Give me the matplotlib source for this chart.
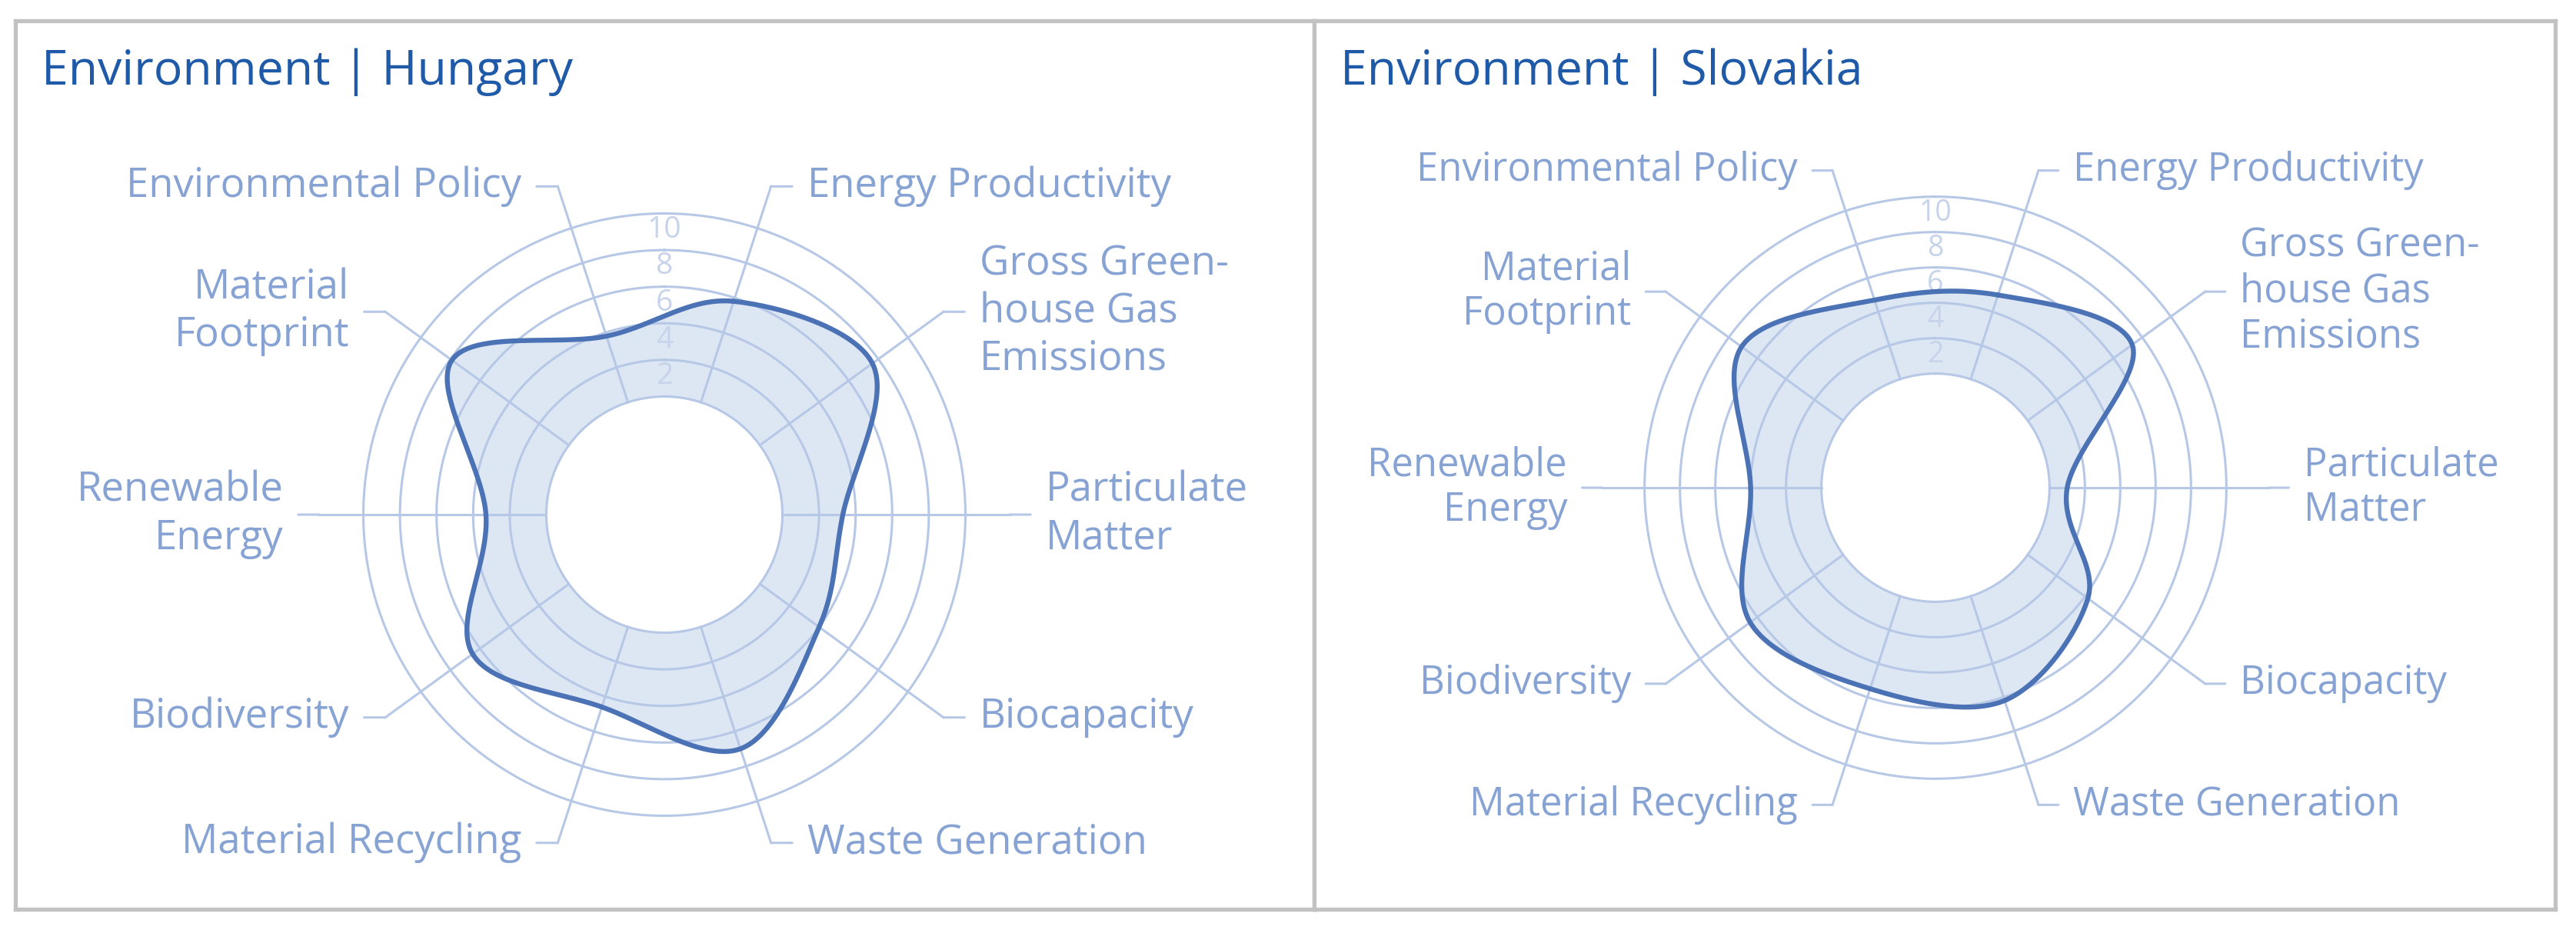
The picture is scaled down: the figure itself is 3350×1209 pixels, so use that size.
import numpy as np
import matplotlib
matplotlib.use('Agg')
import matplotlib.pyplot as plt

# ---- data ----
categories = ['Energy Productivity', 'Gross Green-\nhouse Gas\nEmissions', 'Particulate\nMatter',
              'Biocapacity', 'Waste Generation', 'Material Recycling', 'Biodiversity',
              'Renewable\nEnergy', 'Material\nFootprint', 'Environmental Policy']
hungary = [5.8, 7.6, 3.3, 4.0, 7.0, 4.6, 6.5, 3.3, 7.9, 3.8]
slovakia = [5.0, 7.3, 1.0, 4.2, 6.2, 5.5, 6.5, 4.0, 7.1, 4.7]
ring_values = [0, 2, 4, 6, 8, 10]
tick_labels = ['2', '4', '6', '8', '10']
titles = ['Environment | Hungary', 'Environment | Slovakia']

W, H = 3350, 1209
HOLE = 6.45      # empty centre, in value units
RMAX = 15
LEAD = 12.4      # where the spokes bend to the labels

GRID = '#b7c8e6'
LABEL = '#87a3d4'
LINE = '#4a72b5'
FILL = '#dde6f3'
TITLE = '#1f5aa8'
FRAME = '#c2c2c2'

plt.rcParams['font.family'] = ['Open Sans', 'DejaVu Sans']

fig = plt.figure(figsize=(W / 100, H / 100), dpi=100)


def smooth_closed(theta, vals, n=80):
    # closed Catmull-Rom spline through the points, done in cartesian space
    R = np.asarray(vals) + HOLE
    P = np.column_stack([R * np.sin(theta), R * np.cos(theta)])
    k = len(P)
    t = np.linspace(0, 1, n, endpoint=False)[:, None]
    segs = []
    for i in range(k):
        p0, p1, p2, p3 = P[i - 1], P[i], P[(i + 1) % k], P[(i + 2) % k]
        segs.append(0.5 * (2 * p1 + (-p0 + p2) * t + (2 * p0 - 5 * p1 + 4 * p2 - p3) * t ** 2
                           + (-p0 + 3 * p1 - 3 * p2 + p3) * t ** 3))
    pts = np.vstack(segs + [P[:1]])
    th = np.unwrap(np.arctan2(pts[:, 0], pts[:, 1]))
    return th, np.hypot(pts[:, 0], pts[:, 1]) - HOLE


def frame(x0, x1, y0, y1, title):
    bg = fig.add_axes([x0 / W, 1 - y1 / H, (x1 - x0) / W, (y1 - y0) / H])
    bg.set_xticks([])
    bg.set_yticks([])
    for s in bg.spines.values():
        s.set_color(FRAME)
        s.set_linewidth(3.8)
    fig.text((x0 + 34) / W, 1 - 110 / H, title, color=TITLE, fontsize=45, va='baseline')


def radar(cx, cy, unit, values, fs, tfs):
    half = (HOLE + RMAX) * unit
    ax = fig.add_axes([(cx - half) / W, 1 - (cy + half) / H, 2 * half / W, 2 * half / H],
                      projection='polar')
    ax.set_theta_zero_location('N')
    ax.set_theta_direction(-1)
    ax.set_ylim(0, RMAX)
    ax.set_rorigin(-HOLE)
    ax.axis('off')

    theta = np.radians(18 + 36 * np.arange(len(categories)))
    th, r = smooth_closed(theta, values)
    ax.fill_between(th, 0, r, color=FILL, lw=0, zorder=1)

    circ = np.linspace(0, 2 * np.pi, 400)
    for v in ring_values:
        ax.plot(circ, np.full_like(circ, v), color=GRID, lw=2.2, zorder=2, clip_on=False)
    for a in theta:
        ax.plot([a, a], [0, LEAD], color=GRID, lw=2.2, zorder=2, clip_on=False)
    for lab in tick_labels:
        ax.text(0, float(lab) - 0.1, lab, color='#c6d3ea', fontsize=tfs, ha='center', va='top',
                zorder=3)

    ax.plot(th, r, color=LINE, lw=4.6, zorder=4, solid_capstyle='round')

    off = 47 * unit / 23.8 * 0.72
    for a, name in zip(theta, categories):
        right = np.sin(a) > 1e-6
        ax.annotate(name, xy=(a, LEAD), xytext=(off if right else -off, 0),
                    textcoords='offset points', ha='left' if right else 'right', va='center',
                    multialignment='left' if right else 'right', fontsize=fs, color=LABEL,
                    linespacing=1.2, annotation_clip=False,
                    arrowprops=dict(arrowstyle='-', color=GRID, lw=2.2, shrinkA=12, shrinkB=0))
    return ax


frame(20, 1709, 27, 1182, titles[0])
frame(1709, 3323, 27, 1182, titles[1])
radar(864, 669, 23.8, hungary, 38, 28)
radar(2517, 634, 23.0, slovakia, 36.5, 27)

fig.savefig('out.png', dpi=100)
